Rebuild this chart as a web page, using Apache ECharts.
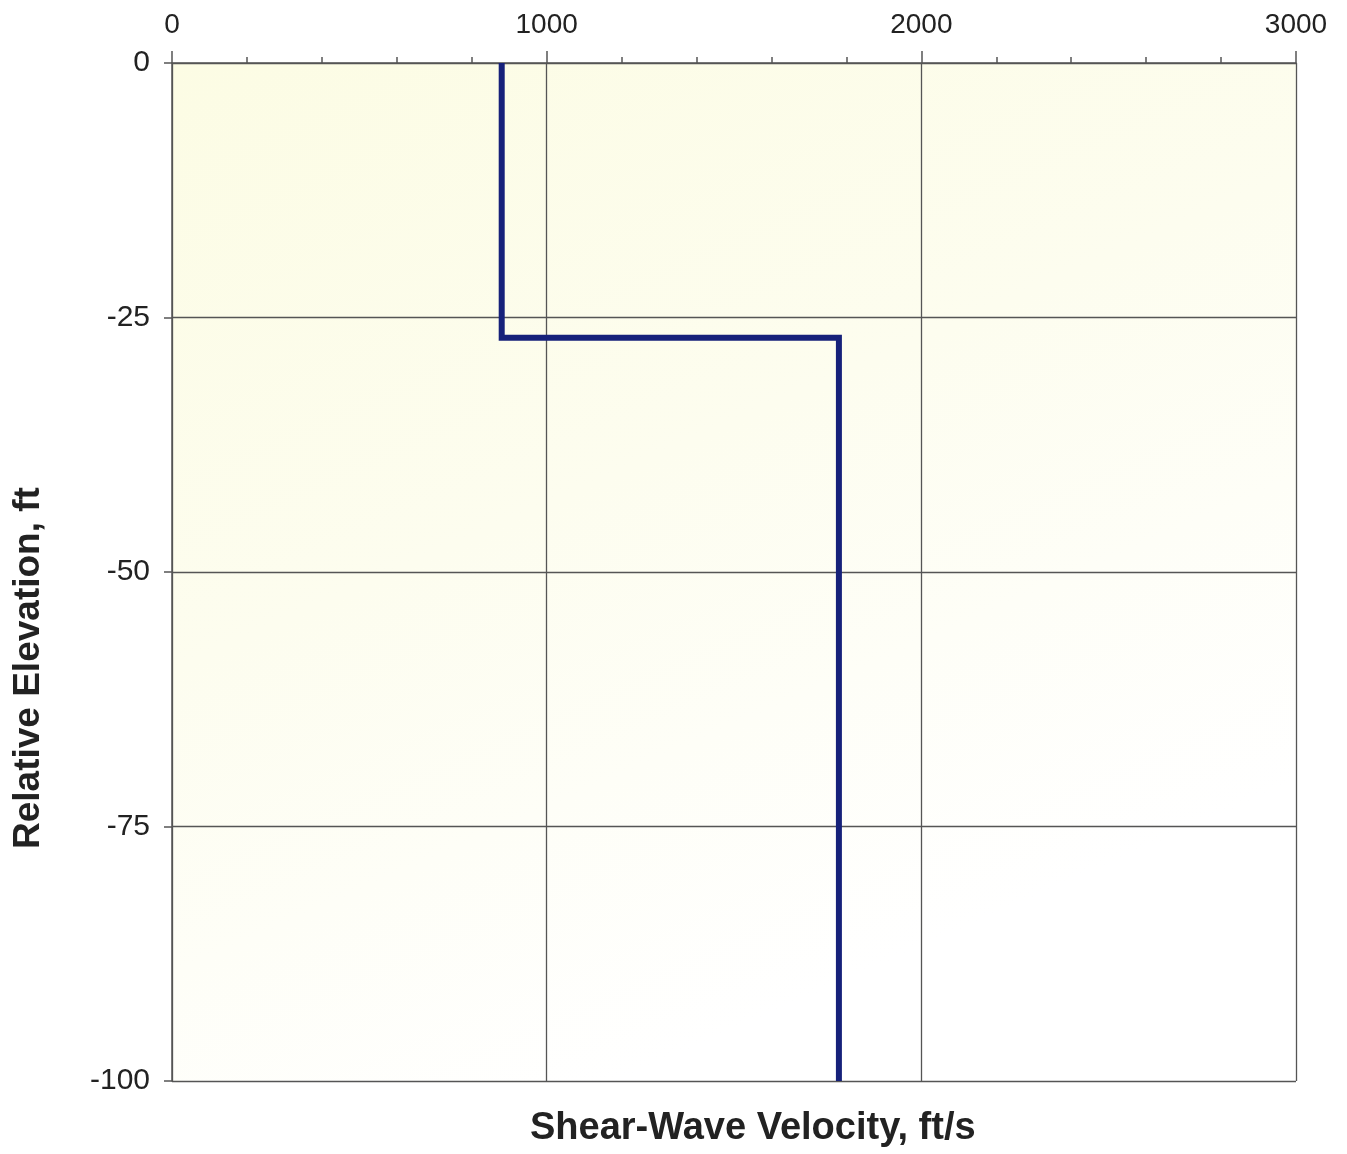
<!DOCTYPE html>
<html lang="en">
<head>
    <meta charset="UTF-8">
    <title>Shear-Wave Velocity Profile</title>
    <script src="https://cdn.jsdelivr.net/npm/echarts@6/dist/echarts.min.js"></script>
    <style>
        html, body {
            margin: 0;
            height: 100%;
            background: #fff;
        }
    </style>
</head>
<body>
<!--chart container-->
<div id="main" style="width: 1347px;height: 1154px;"></div>
</body>
</html>
<script>
    // velocity profile (step line)
    var velocity = [880, 880, 1780, 1780];
    var elevation = [0, -27, -27, -100];

    // axis ticks
    var xTicks = [0, 1000, 2000, 3000];
    var yTicks = [0, -25, -50, -75, -100];

    var points = [];
    for (var i = 0; i < velocity.length; i++) {
        points.push([velocity[i], elevation[i]]);
    }

    var myChart = echarts.init(document.getElementById('main'));

    var option = {
        backgroundColor: '#ffffff',
        animation: false,
        textStyle: {fontFamily: 'Liberation Sans, Arial, sans-serif'},
        grid: {
            left: 172,
            top: 63,
            width: 1124,
            height: 1018,
            show: true,
            borderWidth: 0,
            backgroundColor: new echarts.graphic.LinearGradient(0, 0, 0.4, 1, [
                {offset: 0, color: '#fcfce4'},
                {offset: 0.5, color: '#fdfdef'},
                {offset: 1, color: '#ffffff'}
            ])
        },
        xAxis: {
            type: 'value',
            position: 'top',
            min: xTicks[0],
            max: xTicks[xTicks.length - 1],
            interval: 1000,
            axisLine: {show: true, onZero: false, lineStyle: {color: '#555', width: 1.5}},
            axisTick: {show: true, inside: false, length: 12, lineStyle: {color: '#555', width: 1.5}},
            minorTick: {show: true, splitNumber: 5, length: 6, lineStyle: {color: '#555', width: 1.5}},
            axisLabel: {
                fontSize: 28, color: '#222', margin: 24,
                formatter: function (v) { return String(v); }
            },
            splitLine: {show: true, lineStyle: {color: '#555', width: 1.3}}
        },
        yAxis: {
            type: 'value',
            min: yTicks[yTicks.length - 1],
            max: yTicks[0],
            interval: 25,
            axisLine: {show: true, onZero: false, lineStyle: {color: '#555', width: 1.5}},
            axisTick: {show: true, inside: false, length: 8, lineStyle: {color: '#555', width: 1.5}},
            axisLabel: {
                fontSize: 30, color: '#222', margin: 22,
                formatter: function (v) { return String(v); }
            },
            splitLine: {show: true, lineStyle: {color: '#555', width: 1.3}}
        },
        graphic: [
            {
                type: 'text',
                left: 530,
                top: 1110,
                style: {
                    text: 'Shear-Wave Velocity, ft/s',
                    font: 'bold 38px Liberation Sans, Arial, sans-serif',
                    fill: '#222'
                }
            },
            {
                type: 'text',
                x: 10,
                y: 849,
                rotation: Math.PI / 2,
                style: {
                    text: 'Relative Elevation, ft',
                    font: 'bold 37px Liberation Sans, Arial, sans-serif',
                    fill: '#222'
                }
            }
        ],
        series: [
            {
                type: 'line',
                data: points,
                symbol: 'none',
                lineStyle: {color: '#16217a', width: 6, join: 'miter'}
            }
        ]
    };

    myChart.setOption(option);
</script>
